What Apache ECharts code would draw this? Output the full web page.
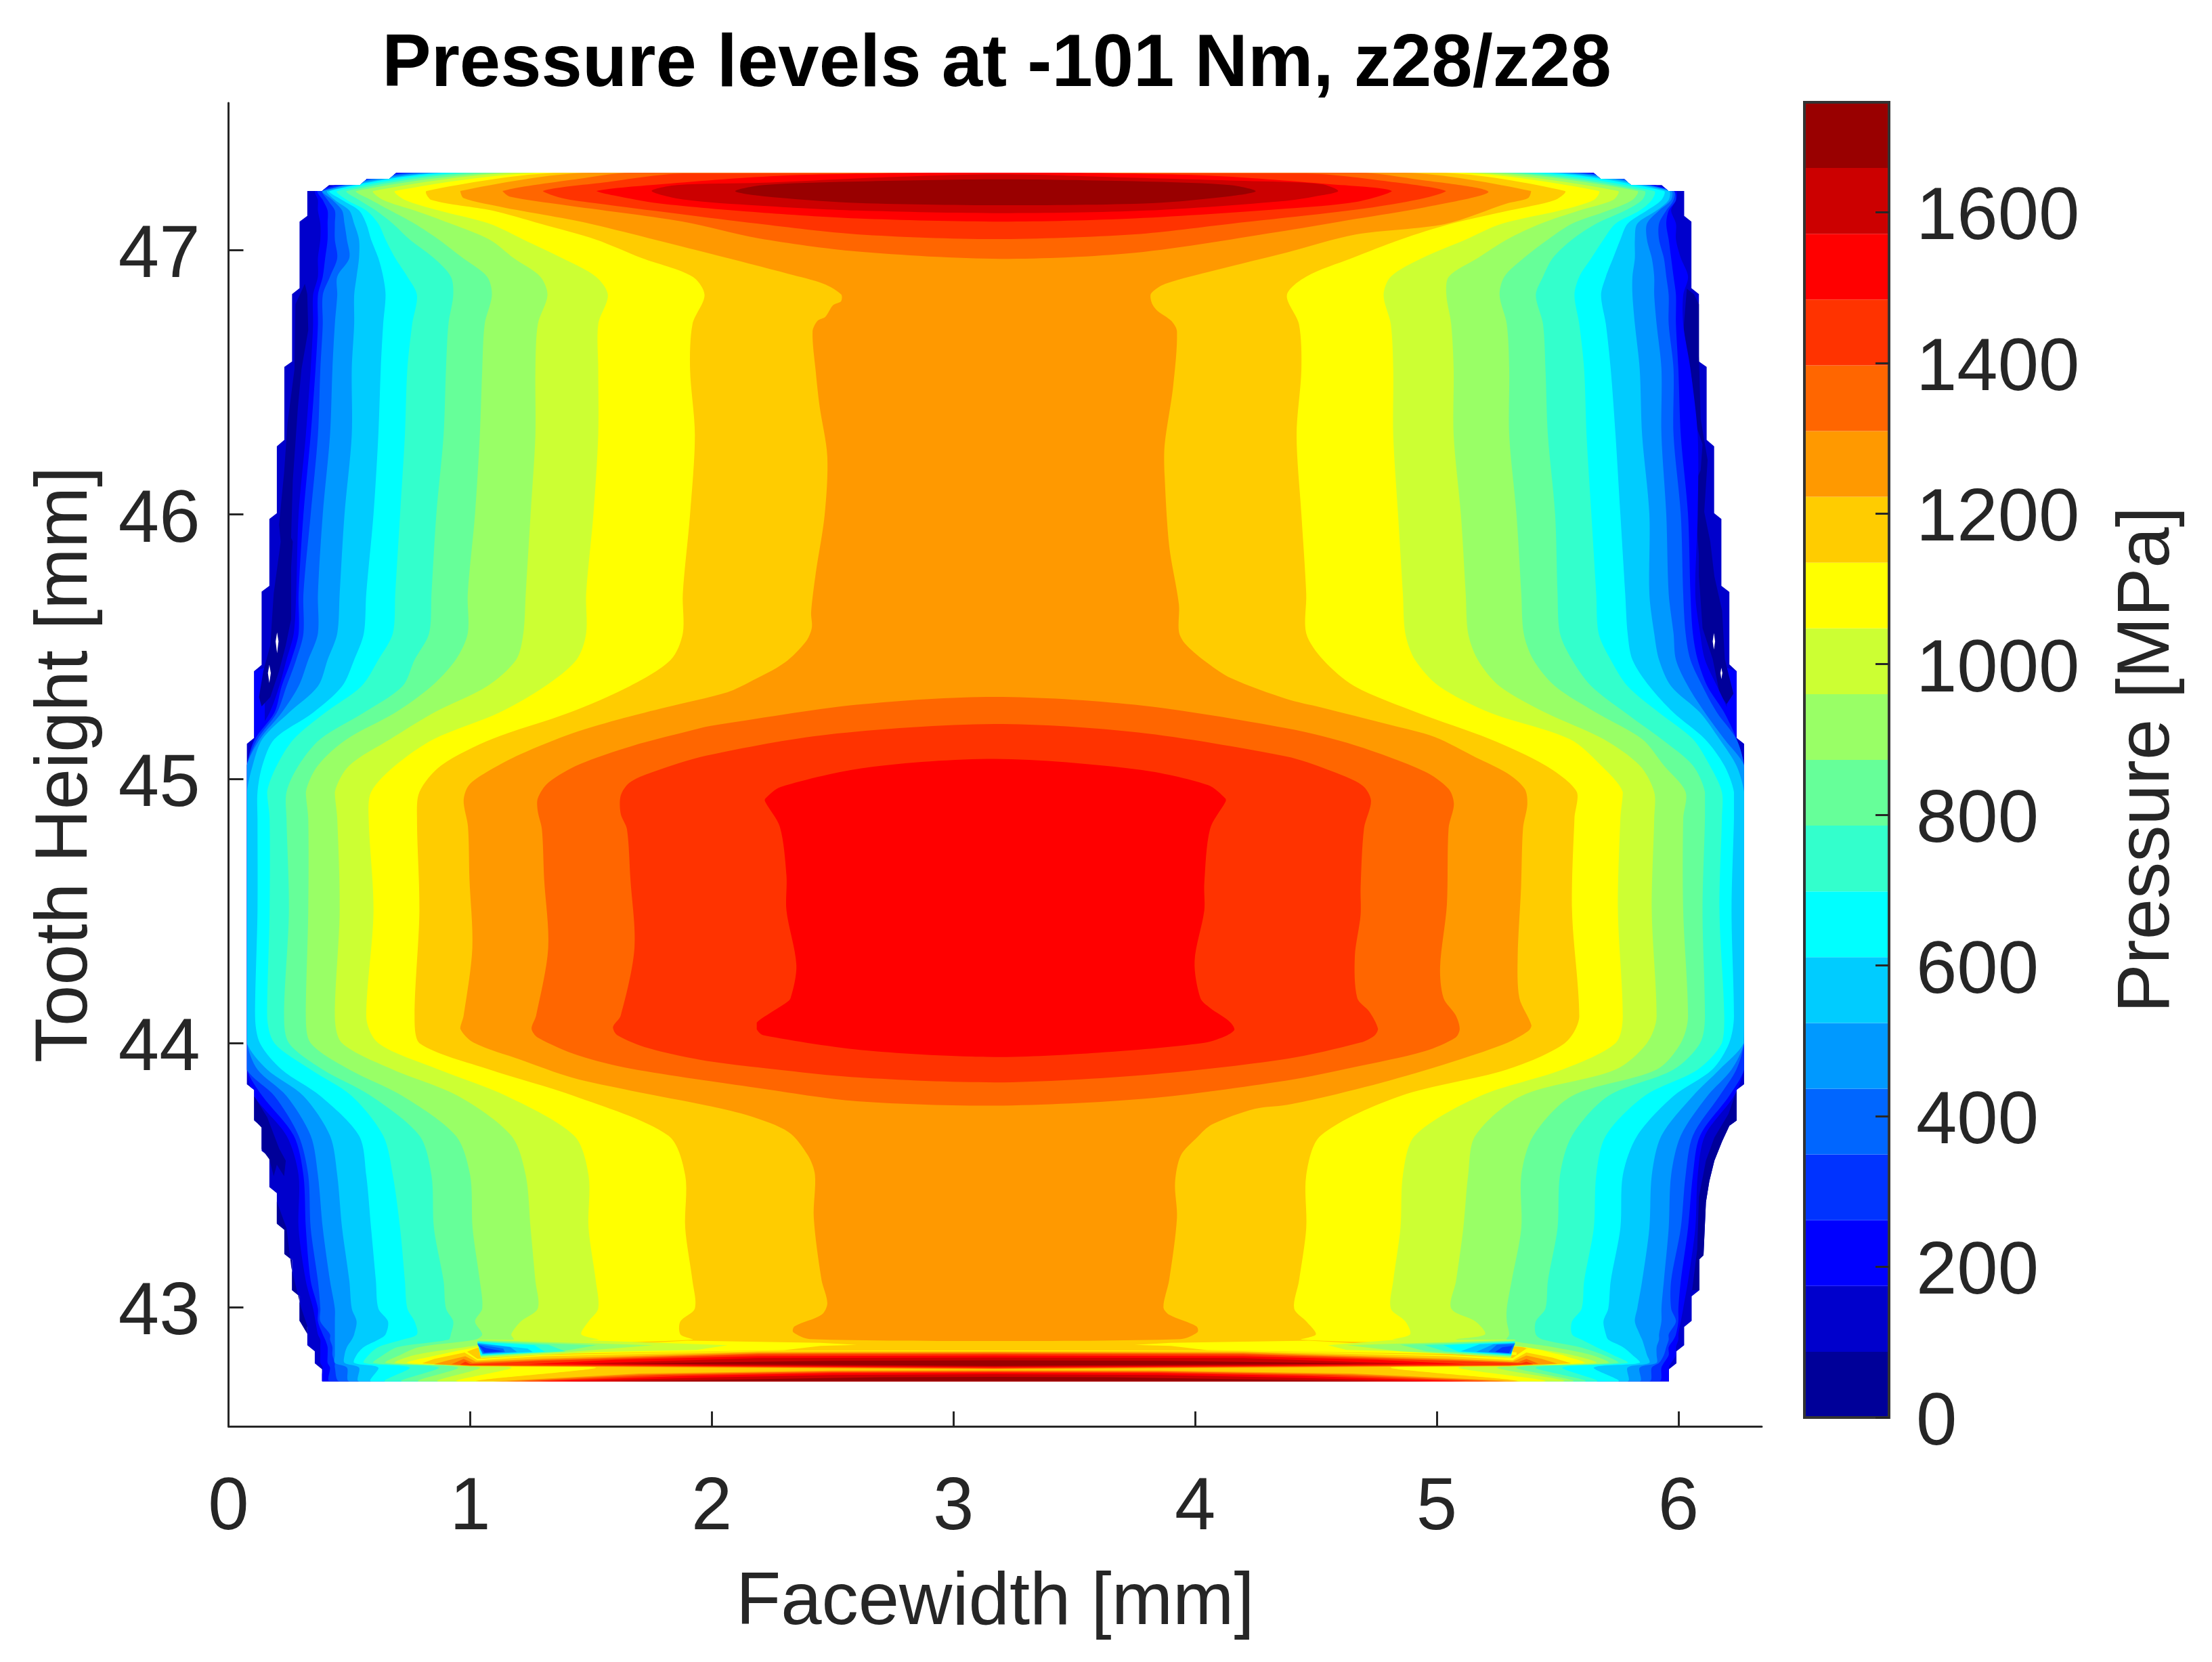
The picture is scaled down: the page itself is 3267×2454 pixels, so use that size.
<!DOCTYPE html>
<html>
<head>
<meta charset="utf-8">
<title>Pressure levels</title>
<script src="https://cdn.jsdelivr.net/npm/echarts@6/dist/echarts.min.js"></script>
<style>
  body { margin: 0; padding: 0; background: #fff; }
  #chart { width: 3267px; height: 2454px; }
</style>
</head>
<body>
<div id="chart"></div>
<script>
// colour bands, lowest pressure first
const bandColors = ["#000099","#0000CC","#0000FF","#0033FF","#0066FF","#0099FF","#00CCFF","#00FFFF","#33FFCC","#66FF99",
  "#99FF66","#CCFF33","#FFFF00","#FFCC00","#FF9900","#FF6600","#FF3300","#FF0000","#CC0000","#990000"];
const bandEdges = [0,87.3,174.6,261.9,349.2,436.5,523.8,611.1,698.4,785.7,873,960.3,1047.6,1134.9,1222.2,1309.5,1396.8,1484.1,1571.4,1658.7,1746];
const xTicks = [0,1,2,3,4,5,6];
const yTicks = [43,44,45,46,47];
const barTicks = [0,200,400,600,800,1000,1200,1400,1600];

// tooth height of the rows where the contour crossings were read
const rowY = [47.293,47.224,47.19,47.15,47.10,47.04,46.97,46.90,46.83,46.72,46.55,46.30,46.00,45.70,45.55,45.45,45.35,45.25,45.15,45.05,
  44.95,44.85,44.50,44.10,44.00,43.90,43.80,43.65,43.50,43.30,43.10,42.996,42.947,42.898,42.878,42.85,42.82,42.79,42.772,42.72];

// facewidth where each band starts on the left side, one entry per row
const left2 = [.72,.36,.37,.37,.38,.38,.37,.37,.35,.35,.34,.32,.29,.28,.27,.24,.21,.17,.106,.076,.076,.076,.076,.076,.076,.076,.106,.24,.29,.29,.32,.35,.36,.37,.38,.38,.38,.38,.39,.39];
const left3 = [.75,.37,.39,.41,.41,.41,.40,.39,.37,.37,.36,.34,.31,.29,.29,.26,.22,.19,.11,.076,.076,.076,.076,.076,.076,.076,.14,.27,.31,.32,.34,.37,.37,.39,.40,.41,.41,.41,.42,.42];
const left4 = [.79,.39,.41,.44,.44,.44,.45,.42,.39,.39,.38,.37,.34,.31,.31,.28,.24,.20,.12,.076,.076,.076,.076,.076,.076,.076,.19,.29,.33,.34,.37,.38,.38,.42,.42,.43,.43,.44,.44,.46];
const left5 = [.84,.39,.43,.47,.48,.49,.50,.45,.45,.44,.43,.42,.39,.37,.37,.33,.29,.22,.13,.076,.076,.076,.076,.076,.076,.12,.24,.34,.37,.39,.42,.44,.44,.44,.44,.44,.44,.44,.49,.50];
const left6 = [.88,.41,.44,.50,.52,.54,.54,.53,.52,.52,.51,.51,.48,.46,.45,.41,.37,.25,.14,.10,.076,.076,.076,.076,.076,.16,.31,.42,.45,.47,.50,.51,.53,.52,.51,.49,.48,.48,.54,.54];
const left7 = [.92,.42,.47,.54,.57,.59,.62,.64,.65,.64,.63,.62,.60,.57,.56,.52,.47,.35,.19,.14,.12,.12,.12,.11,.13,.22,.38,.54,.57,.59,.61,.62,.66,.65,.62,.56,.53,.52,.62,.59];
const left8 = [.98,.45,.49,.57,.62,.65,.69,.74,.78,.76,.74,.73,.71,.69,.68,.62,.55,.40,.27,.20,.16,.17,.17,.16,.19,.34,.51,.64,.68,.71,.73,.74,.77,.78,.72,.62,.58,.56,.75,.65];
const left9 = [1.05,.49,.54,.61,.68,.75,.85,.92,.93,.91,.90,.89,.86,.84,.83,.77,.72,.56,.38,.29,.24,.24,.25,.23,.25,.39,.59,.79,.84,.85,.89,.90,.93,.92,.91,.70,.64,.60,.87,.72];
const left10 = [1.14,.53,.59,.67,.77,.87,.97,1.07,1.09,1.06,1.05,1.04,1.02,.99,.99,.94,.84,.69,.49,.37,.32,.33,.33,.32,.34,.50,.72,.94,1.0,1.01,1.04,1.05,1.02,1.05,1.02,.79,.71,.65,.95,.79];
const left11 = [1.21,.60,.64,.77,.92,1.08,1.18,1.29,1.32,1.28,1.27,1.27,1.25,1.23,1.22,1.19,1.07,.85,.67,.50,.44,.45,.46,.44,.47,.68,.95,1.17,1.23,1.25,1.27,1.28,1.21,1.17,1.18,.98,.77,.69,1.04,.87];
const left12 = [1.31,.69,.73,.87,1.08,1.22,1.38,1.52,1.57,1.53,1.53,1.53,1.51,1.48,1.48,1.44,1.31,1.12,.85,.69,.59,.58,.60,.57,.62,.87,1.15,1.43,1.49,1.49,1.52,1.53,1.49,1.46,1.53,1.04,.87,.74,1.17,.95];
const left13 = [1.38,.82,.84,1.09,1.29,1.52,1.71,1.92,1.97,1.92,1.91,1.93,1.91,1.88,1.88,1.83,1.66,1.41,1.09,.88,.79,.78,.79,.77,.79,1.08,1.43,1.82,1.89,1.89,1.92,1.93,1.87,1.87,1.92,1.05,.95,.80,1.52,1.04];

// facewidth where each band ends on the right side
const right2 = [5.62,5.99,5.99,5.97,5.99,5.99,6.01,6.04,6.02,6.02,6.05,6.08,6.08,6.07,6.09,6.11,6.16,6.21,6.241,6.272,6.272,6.272,6.272,6.272,6.272,6.272,6.23,6.11,6.08,6.07,6.04,6.02,6.01,6.0,6.0,5.99,5.99,5.97,5.96,5.96];
const right3 = [5.59,5.98,5.99,5.96,5.95,5.96,5.97,5.98,5.99,5.99,6.0,6.01,6.04,6.05,6.06,6.08,6.12,6.19,6.241,6.272,6.272,6.272,6.272,6.272,6.272,6.272,6.21,6.09,6.06,6.04,6.01,6.0,6.0,5.99,5.98,5.96,5.96,5.94,5.93,5.92];
const right4 = [5.56,5.98,5.98,5.95,5.92,5.92,5.94,5.95,5.96,5.96,5.98,5.98,6.01,6.02,6.03,6.05,6.10,6.16,6.24,6.272,6.272,6.272,6.272,6.272,6.272,6.24,6.17,6.06,6.03,6.01,5.97,5.97,5.99,5.96,5.96,5.95,5.94,5.92,5.89,5.88];
const right5 = [5.52,5.97,5.97,5.92,5.87,5.87,5.89,5.90,5.90,5.91,5.93,5.93,5.95,5.96,5.98,5.99,6.04,6.11,6.19,6.272,6.272,6.272,6.272,6.272,6.272,6.22,6.12,6.01,5.97,5.96,5.94,5.93,5.93,5.92,5.92,5.91,5.91,5.91,5.84,5.84];
const right6 = [5.48,5.96,5.96,5.91,5.83,5.82,5.82,5.81,5.81,5.82,5.84,5.85,5.88,5.88,5.90,5.92,5.97,6.09,6.17,6.24,6.272,6.272,6.272,6.272,6.27,6.17,6.06,5.93,5.89,5.88,5.85,5.83,5.82,5.84,5.85,5.86,5.87,5.88,5.79,5.79];
const right7 = [5.43,5.94,5.93,5.87,5.79,5.76,5.73,5.70,5.68,5.70,5.72,5.74,5.76,5.78,5.79,5.81,5.88,5.98,6.11,6.19,6.23,6.23,6.22,6.23,6.21,6.14,5.98,5.83,5.77,5.76,5.72,5.71,5.69,5.70,5.71,5.77,5.81,5.84,5.65,5.75];
const right8 = [5.36,5.90,5.89,5.84,5.74,5.69,5.64,5.59,5.57,5.59,5.61,5.62,5.64,5.66,5.67,5.72,5.79,5.92,6.06,6.13,6.18,6.18,6.17,6.19,6.18,6.08,5.86,5.70,5.66,5.65,5.61,5.60,5.56,5.56,5.60,5.66,5.73,5.79,5.52,5.66];
const right9 = [5.29,5.86,5.85,5.78,5.66,5.56,5.48,5.44,5.41,5.44,5.45,5.46,5.49,5.50,5.51,5.56,5.64,5.78,5.93,6.06,6.11,6.11,6.10,6.11,6.09,5.98,5.71,5.56,5.51,5.50,5.46,5.45,5.41,5.41,5.44,5.59,5.69,5.75,5.41,5.61];
const right10 = [5.22,5.83,5.81,5.71,5.56,5.46,5.36,5.28,5.26,5.29,5.30,5.30,5.33,5.35,5.36,5.40,5.49,5.66,5.85,5.94,6.03,6.02,6.02,6.04,6.01,5.91,5.56,5.40,5.35,5.35,5.31,5.29,5.29,5.30,5.29,5.48,5.64,5.71,5.33,5.56];
const right11 = [5.14,5.75,5.73,5.59,5.43,5.29,5.17,5.05,5.04,5.06,5.07,5.07,5.10,5.12,5.13,5.17,5.26,5.45,5.69,5.84,5.90,5.90,5.89,5.91,5.87,5.74,5.35,5.16,5.13,5.11,5.08,5.06,5.16,5.20,5.08,5.36,5.56,5.66,5.25,5.52];
const right12 = [5.08,5.67,5.65,5.51,5.27,5.12,4.94,4.81,4.78,4.81,4.82,4.82,4.84,4.86,4.87,4.91,5.01,5.22,5.55,5.68,5.77,5.76,5.75,5.77,5.74,5.52,5.18,4.91,4.86,4.85,4.82,4.81,4.87,4.89,4.82,5.36,5.51,5.61,5.09,5.44];
const right13 = [5.01,5.53,5.49,5.30,5.06,4.85,4.65,4.46,4.38,4.43,4.44,4.42,4.44,4.46,4.46,4.53,4.66,4.92,5.22,5.45,5.58,5.57,5.56,5.59,5.53,5.29,4.85,4.52,4.46,4.46,4.43,4.41,4.46,4.50,4.44,5.35,5.43,5.56,4.81,5.32];

// outline of the region that has data
const outline = [[.694,47.293],[.666,47.27],[.573,47.27],[.544,47.246],[.416,47.246],[.387,47.224],[.326,47.224],[.326,47.13],[.294,47.108],[.294,46.856],[.263,46.834],[.263,46.579],[.231,46.558],[.231,46.282],[.2,46.258],[.2,46.005],[.169,45.983],[.169,45.73],[.137,45.708],[.137,45.431],[.106,45.407],[.106,45.155],[.076,45.132],[.076,43.844],[.106,43.823],[.106,43.707],[.137,43.684],[.137,43.592],[.169,43.57],[.169,43.455],[.2,43.432],[.2,43.317],[.231,43.294],[.231,43.202],[.263,43.179],[.263,43.065],[.294,43.042],[.294,42.949],[.326,42.926],[.326,42.857],[.357,42.834],[.357,42.788],[.387,42.766],[.387,42.72],
  [5.961,42.72],[5.961,42.766],[5.992,42.788],[5.992,42.834],[6.024,42.857],[6.024,42.926],[6.055,42.949],[6.055,43.042],[6.087,43.065],[6.087,43.182],[6.104,43.197],[6.114,43.398],[6.128,43.477],[6.149,43.555],[6.181,43.628],[6.211,43.687],[6.241,43.707],[6.241,43.823],[6.272,43.844],[6.272,45.132],[6.241,45.155],[6.241,45.407],[6.211,45.433],[6.211,45.707],[6.178,45.73],[6.178,45.983],[6.148,46.005],[6.148,46.258],[6.117,46.282],[6.117,46.558],[6.085,46.579],[6.085,46.834],[6.054,46.856],[6.054,47.108],[6.024,47.13],[6.024,47.224],[5.959,47.224],[5.931,47.246],[5.804,47.246],[5.775,47.27],[5.678,47.27],[5.649,47.293]];

// low pockets along the flanks, painted under the contour bands
const flankPatches = [
  [2,[[.106,45.407],[.15,45.42],[.15,45.2],[.106,45.155]]],
  [2,[[6.241,45.407],[6.2,45.42],[6.2,45.2],[6.241,45.155]]],
  [0,[[.316,46.873],[.277,46.795],[.273,46.55],[.244,46.344],[.23,46.158],[.209,45.961],[.216,45.897],[.187,45.701],[.18,45.603],[.173,45.505],[.144,45.407],[.126,45.309],[.137,45.274],[.173,45.309],[.209,45.407],[.237,45.505],[.259,45.603],[.259,45.799],[.266,45.897],[.259,45.912],[.266,46.128],[.287,46.403],[.302,46.55],[.33,46.697],[.326,46.834]]],
  [0,[[6.035,46.854],[6.021,46.697],[6.057,46.501],[6.064,46.363],[6.1,46.265],[6.092,46.167],[6.078,46.138],[6.071,46.01],[6.085,45.846],[6.085,45.766],[6.1,45.57],[6.142,45.453],[6.171,45.322],[6.2,45.283],[6.228,45.322],[6.192,45.453],[6.181,45.636],[6.149,45.766],[6.132,45.897],[6.107,46.01],[6.121,46.206],[6.092,46.363],[6.085,46.599],[6.085,46.795],[6.064,46.834]]],
  [0,[[.106,43.8],[.16,43.72],[.21,43.6],[.237,43.555],[.23,43.496],[.2,43.54],[.187,43.496],[.169,43.56],[.137,43.6],[.137,43.68],[.106,43.71]]],
  [0,[[.2,43.4],[.24,43.3],[.26,43.15],[.3,43.0],[.326,42.93],[.326,42.9],[.294,42.949],[.294,43.042],[.263,43.065],[.263,43.179],[.231,43.202],[.231,43.294],[.2,43.317]]],
  [0,[[6.241,43.82],[6.241,43.707],[6.211,43.687],[6.181,43.628],[6.149,43.555],[6.128,43.477],[6.114,43.398],[6.104,43.197],[6.087,43.182],[6.087,43.065],[6.057,43.065],[6.078,43.22],[6.085,43.418],[6.114,43.555],[6.149,43.643],[6.207,43.731]]]
];
// tiny gaps in the contours
const holes = [
  [[.201,45.554],[.207,45.52],[.201,45.475],[.195,45.52]],
  [[.169,45.431],[.175,45.4],[.169,45.363],[.163,45.4]],
  [[6.147,45.551],[6.152,45.52],[6.147,45.489],[6.142,45.52]],
  [[6.178,45.42],[6.182,45.4],[6.178,45.377],[6.174,45.4]]
];

// upper cap and the neck around the middle
const orangeBody = [[1.494,47.293],[.959,47.224],[.973,47.197],[1.137,47.162],[1.28,47.138],[1.477,47.104],[1.996,46.986],[2.318,46.91],[2.462,46.873],[2.535,46.833],[2.535,46.807],[2.502,46.792],[2.47,46.748],[2.438,46.733],[2.417,46.692],[2.43,46.542],[2.446,46.41],[2.478,46.219],[2.467,45.998],[2.43,45.777],[2.411,45.63],[2.414,45.572],[2.39,45.52],[2.301,45.439],[2.157,45.366],[2.066,45.328],[1.809,45.27],[1.637,45.23],[1.423,45.172],[1.209,45.093],[1.066,45.024],[.994,44.975],[.973,44.917],[.991,44.819],[.997,44.623],[1.009,44.36],[.973,44.104],[.959,44.055],[1.016,44.001],[1.209,43.937],[1.423,43.869],[1.666,43.82],[1.996,43.761],[2.157,43.724],[2.318,43.663],[2.398,43.575],[2.427,43.501],[2.422,43.339],[2.454,43.104],[2.478,43.016],[2.454,42.972],[2.342,42.928],[2.337,42.906],[2.406,42.88],[3.17,42.873],[3.941,42.88],[4.01,42.906],[4.006,42.928],[3.893,42.972],[3.869,43.001],[3.893,43.104],[3.925,43.339],[3.917,43.472],[3.941,43.575],[4.006,43.641],[4.07,43.692],[4.247,43.751],[4.378,43.766],[4.517,43.792],[4.807,43.859],[5.092,43.937],[5.292,44.001],[5.378,44.045],[5.392,44.067],[5.342,44.171],[5.335,44.328],[5.349,44.59],[5.357,44.812],[5.375,44.904],[5.364,44.962],[5.292,45.021],[5.164,45.08],[4.992,45.158],[4.807,45.204],[4.521,45.27],[4.378,45.302],[4.15,45.38],[4.038,45.447],[3.957,45.513],[3.933,45.557],[3.933,45.66],[3.893,45.88],[3.874,46.145],[3.874,46.263],[3.909,46.483],[3.925,46.692],[3.901,46.733],[3.845,46.77],[3.821,46.8],[3.818,46.836],[3.877,46.873],[4.086,46.925],[4.378,46.991],[4.664,47.059],[5.035,47.099],[5.292,47.177],[5.378,47.197],[5.39,47.224],[4.864,47.293]];

// closed contours: [band, outline]
const closedContours = [
  [15,[[1.666,47.293],[1.451,47.27],[1.134,47.224],[1.166,47.202],[1.38,47.172],[1.88,47.108],[2.191,47.045],[2.6,46.995],[3.197,46.967],[3.75,46.99],[4.378,47.074],[4.664,47.118],[4.949,47.162],[5.214,47.221],[4.9,47.27],[4.684,47.293]]],
  [16,[[1.88,47.29],[1.551,47.256],[1.301,47.224],[1.38,47.197],[1.523,47.177],[2.191,47.1],[2.6,47.06],[3.17,47.042],[3.75,47.06],[4.158,47.101],[4.378,47.123],[4.735,47.162],[4.949,47.197],[5.038,47.224],[4.8,47.26],[4.46,47.29]]],
  [17,[[1.523,47.224],[1.594,47.207],[1.78,47.177],[2.191,47.143],[2.6,47.12],[3.197,47.108],[3.75,47.12],[4.378,47.157],[4.664,47.182],[4.814,47.224],[4.55,47.25],[4.05,47.282],[3.45,47.293],[2.9,47.293],[2.3,47.282],[1.8,47.25]]],
  [18,[[1.751,47.224],[1.88,47.192],[2.191,47.169],[2.6,47.15],[3.197,47.14],[3.8,47.15],[4.378,47.187],[4.521,47.207],[4.592,47.224],[4.521,47.25],[4.2,47.262],[3.7,47.275],[3.197,47.287],[2.7,47.275],[2.213,47.255],[1.856,47.246]]],
  [19,[[2.097,47.223],[2.213,47.204],[2.571,47.18],[3.197,47.17],[3.822,47.178],[4.144,47.204],[4.251,47.223],[4.144,47.246],[3.822,47.259],[3.197,47.268],[2.571,47.259],[2.213,47.246]]],
  [15,[[1.996,45.2],[2.6,45.28],[3.17,45.31],[3.75,45.28],[4.378,45.191],[4.664,45.126],[4.949,45.028],[5.049,44.962],[5.071,44.904],[5.049,44.812],[5.042,44.524],[5.014,44.289],[5.028,44.171],[5.078,44.106],[5.095,44.054],[5.078,44.021],[4.949,43.969],[4.664,43.91],[4.378,43.858],[3.8,43.79],[3.17,43.763],[2.6,43.78],[2.191,43.83],[1.666,43.903],[1.451,43.952],[1.28,44.021],[1.254,44.055],[1.273,44.104],[1.323,44.36],[1.306,44.623],[1.297,44.809],[1.28,44.877],[1.28,44.926],[1.323,44.985],[1.451,45.054],[1.666,45.123],[1.951,45.191]]],
  [16,[[1.98,45.088],[2.478,45.167],[3.17,45.207],[3.764,45.175],[4.378,45.084],[4.549,45.034],[4.692,44.975],[4.728,44.917],[4.699,44.812],[4.685,44.59],[4.685,44.485],[4.661,44.328],[4.671,44.171],[4.721,44.119],[4.757,44.054],[4.742,44.028],[4.685,44.002],[4.378,43.94],[3.8,43.88],[3.17,43.851],[2.6,43.87],[2.191,43.908],[1.951,43.937],[1.737,43.981],[1.609,44.03],[1.591,44.06],[1.623,44.104],[1.68,44.36],[1.663,44.623],[1.649,44.809],[1.623,44.868],[1.623,44.936],[1.659,44.985],[1.751,45.024]]],
  [17,[[2.221,44.925],[2.285,44.969],[2.639,45.042],[3.17,45.075],[3.764,45.035],[4.054,44.976],[4.126,44.925],[4.126,44.913],[4.062,44.81],[4.038,44.604],[4.038,44.501],[3.998,44.31],[4.022,44.17],[4.062,44.133],[4.142,44.082],[4.163,44.052],[4.134,44.03],[4.038,44.001],[3.604,43.964],[3.17,43.947],[2.639,43.972],[2.213,44.03],[2.186,44.052],[2.186,44.077],[2.237,44.111],[2.301,44.148],[2.326,44.17],[2.35,44.295],[2.309,44.501],[2.309,44.633],[2.282,44.817],[2.221,44.913]]]
];

// thin yellow rims just above the bottom hot stripe
const rimPatches = [
  [12,[[1.04,42.83],[1.9,42.874],[2.45,42.866],[2.6,42.858],[2.45,42.854],[2.3,42.838],[1.04,42.82]]],
  [12,[[5.33,42.83],[4.47,42.874],[3.9,42.866],[3.75,42.858],[3.9,42.854],[4.05,42.838],[5.33,42.82]]]
];
// cold pockets next to the bottom wedges, warm to cold
const coldPockets = [
  [11,[[1.03,42.878],[1.523,42.874],[2.066,42.857],[1.937,42.839],[1.523,42.831],[1.044,42.808]]],
  [10,[[1.03,42.877],[1.758,42.857],[1.38,42.829],[1.044,42.812]]],
  [9,[[1.03,42.874],[1.523,42.857],[1.38,42.834],[1.044,42.815]]],
  [8,[[1.03,42.871],[1.323,42.859],[1.394,42.834],[1.044,42.818]]],
  [7,[[1.03,42.869],[1.266,42.857],[1.309,42.832],[1.044,42.82]]],
  [6,[[1.03,42.866],[1.238,42.844],[1.259,42.831],[1.051,42.822]]],
  [5,[[1.03,42.864],[1.167,42.849],[1.194,42.831],[1.051,42.824]]],
  [4,[[1.03,42.861],[1.137,42.844],[1.144,42.831],[1.054,42.826]]],
  [3,[[1.037,42.857],[1.066,42.846],[1.137,42.834],[1.059,42.829]]],
  [11,[[5.324,42.878],[4.807,42.876],[4.549,42.857],[4.628,42.839],[4.949,42.832],[5.307,42.808]]],
  [10,[[5.324,42.877],[4.628,42.857],[4.849,42.834],[5.307,42.812]]],
  [9,[[5.324,42.874],[4.849,42.859],[4.957,42.834],[5.307,42.815]]],
  [8,[[5.324,42.871],[4.949,42.857],[5.035,42.834],[5.307,42.818]]],
  [7,[[5.324,42.869],[5.028,42.857],[5.092,42.832],[5.307,42.82]]],
  [6,[[5.324,42.866],[5.178,42.861],[5.099,42.834],[5.307,42.822]]],
  [5,[[5.324,42.864],[5.235,42.861],[5.164,42.832],[5.307,42.824]]],
  [4,[[5.321,42.861],[5.249,42.859],[5.214,42.832],[5.307,42.826]]],
  [3,[[5.314,42.854],[5.271,42.849],[5.242,42.832],[5.299,42.827]]]
];
// hot stripe with its two wedges, then the lower stripe on the bottom edge
const upperStripe = [
  [12,[[.744,42.79],[.866,42.82],[.977,42.839],[1.03,42.805],[1.3,42.82],[2.19,42.836],[3.17,42.837],[4.2,42.836],[5.05,42.82],[5.314,42.808],[5.371,42.844],[5.521,42.82],[5.607,42.79],[5.3,42.778],[3.17,42.776],[1.0,42.778]]],
  [13,[[.801,42.788],[.851,42.805],[.977,42.829],[1.03,42.8],[1.3,42.815],[2.19,42.834],[3.17,42.835],[4.2,42.834],[5.05,42.815],[5.314,42.8],[5.371,42.829],[5.478,42.81],[5.557,42.788],[5.3,42.777],[4.3,42.772],[3.17,42.77],[2.0,42.772],[1.0,42.777]]],
  [14,[[.851,42.785],[.909,42.8],[.98,42.815],[1.023,42.795],[1.3,42.806],[2.19,42.83],[3.17,42.832],[4.2,42.83],[5.05,42.806],[5.314,42.795],[5.371,42.818],[5.435,42.805],[5.499,42.787],[5.3,42.779],[4.3,42.772],[3.17,42.766],[2.0,42.772],[1.0,42.779]]],
  [15,[[.923,42.785],[.973,42.805],[1.009,42.79],[1.3,42.802],[2.19,42.826],[3.17,42.828],[4.2,42.826],[5.05,42.802],[5.335,42.792],[5.371,42.805],[5.421,42.787],[5.3,42.78],[4.3,42.774],[3.17,42.768],[2.0,42.774],[1.0,42.78]]],
  [16,[[.958,42.783],[.98,42.795],[1.001,42.785],[1.3,42.798],[2.19,42.822],[3.17,42.824],[4.2,42.822],[5.05,42.798],[5.349,42.788],[5.371,42.795],[5.399,42.785],[5.3,42.781],[4.3,42.776],[3.17,42.77],[2.0,42.776],[1.0,42.781]]],
  [17,[[1.24,42.785],[1.6,42.802],[2.19,42.815],[3.17,42.818],[4.2,42.815],[4.75,42.802],[5.12,42.785],[4.3,42.778],[3.17,42.772],[2.0,42.778]]],
  [18,[[1.42,42.786],[1.8,42.797],[2.19,42.808],[3.17,42.81],[4.2,42.808],[4.55,42.797],[4.92,42.786],[4.2,42.78],[3.17,42.775],[2.1,42.78]]],
  [19,[[1.62,42.787],[2.0,42.792],[2.5,42.798],[3.17,42.8],[3.85,42.798],[4.35,42.792],[4.72,42.787],[3.17,42.779]]]
];
const lowerStripe = [
  [14,[[1.094,42.72],[1.7,42.75],[2.5,42.761],[3.17,42.762],[3.85,42.761],[4.65,42.75],[5.35,42.72]]],
  [15,[[1.151,42.72],[1.7,42.746],[2.5,42.758],[3.17,42.759],[3.85,42.758],[4.65,42.746],[5.29,42.72]]],
  [16,[[1.209,42.72],[1.8,42.745],[2.5,42.755],[3.17,42.757],[3.85,42.755],[4.55,42.745],[5.22,42.72]]],
  [17,[[1.28,42.72],[1.9,42.741],[2.5,42.751],[3.17,42.753],[3.85,42.751],[4.45,42.741],[5.12,42.72]]],
  [18,[[1.38,42.72],[2.0,42.735],[2.5,42.744],[3.17,42.747],[3.85,42.744],[4.35,42.735],[4.98,42.72]]],
  [19,[[1.594,42.72],[2.2,42.729],[2.7,42.736],[3.17,42.737],[3.65,42.736],[4.15,42.729],[4.76,42.72]]]
];

const leftChains = [left2,left3,left4,left5,left6,left7,left8,left9,left10,left11,left12,left13];
const rightChains = [right2,right3,right4,right5,right6,right7,right8,right9,right10,right11,right12,right13];

// paint order: base, flanks, nested bands, closed contours, bottom stripes
// third entry: round the corners between read points (the stepped outline and thin stripes stay sharp)
let shapes = [[1, outline, false]];
flankPatches.forEach(p => shapes.push([p[0], p[1], false]));
holes.forEach(h => shapes.push([-1, h, false]));
leftChains.forEach((lx, i) => {
  const pts = lx.map((x, r) => [x, rowY[r]]);
  for (let r = rowY.length - 1; r >= 0; r--) pts.push([rightChains[i][r], rowY[r]]);
  shapes.push([i + 2, pts, true]);
});
shapes.push([14, orangeBody, true]);
closedContours.forEach(p => shapes.push([p[0], p[1], true]));
[rimPatches, coldPockets, upperStripe, lowerStripe].forEach(list => list.forEach(p => shapes.push([p[0], p[1], false])));

const textColor = "#262626";
const fontName = "Liberation Sans";
// labels sit a little below their tick, as in the original figure
const lowLabel = v => "{n|" + v + "}";
const lowRich = { n: { fontFamily: fontName, fontSize: 108.5, color: textColor, padding: [20,0,0,0] } };

const chart = echarts.init(document.getElementById("chart"), null, { renderer: "canvas" });
chart.setOption({
  animation: false,
  backgroundColor: "#fff",
  title: {
    text: "Pressure levels at -101 Nm, z28/z28",
    left: 1467, top: 38, textAlign: "center",
    textStyle: { fontFamily: fontName, fontSize: 108.5, fontWeight: "bold", color: "#000" }
  },
  grid: [
    { left: 337.5, top: 152, width: 2264.5, height: 1954, outerBoundsMode: "none" },
    { left: 2665, top: 151, width: 125, height: 1942, outerBoundsMode: "none", show: true, z: 5, backgroundColor: "transparent", borderColor: "#333", borderWidth: 4 }
  ],
  xAxis: [
    {
      gridIndex: 0, type: "value", min: 0, max: 6.345,
      name: "Facewidth [mm]", nameLocation: "middle", nameGap: 208, nameMoveOverlap: false,
      nameTextStyle: { fontFamily: fontName, fontSize: 108.5, color: textColor },
      axisLine: { onZero: false, lineStyle: { color: textColor, width: 3 } },
      axisTick: { inside: true, length: 22, lineStyle: { color: textColor, width: 3 }, customValues: xTicks },
      axisLabel: { fontFamily: fontName, fontSize: 108.5, color: textColor, margin: 68, customValues: xTicks, formatter: v => String(v) },
      splitLine: { show: false }
    },
    { gridIndex: 1, type: "value", min: 0, max: 1, show: false }
  ],
  yAxis: [
    {
      gridIndex: 0, type: "value", min: 42.55, max: 47.557,
      name: "Tooth Height [mm]", nameLocation: "middle", nameGap: 185, nameMoveOverlap: false,
      nameTextStyle: { fontFamily: fontName, fontSize: 108.5, color: textColor },
      axisLine: { onZero: false, lineStyle: { color: textColor, width: 3 } },
      axisTick: { inside: true, length: 22, lineStyle: { color: textColor, width: 3 }, customValues: yTicks },
      axisLabel: { margin: 42, customValues: yTicks, formatter: lowLabel, rich: lowRich },
      splitLine: { show: false }
    },
    {
      gridIndex: 1, type: "value", min: 0, max: 1746, position: "right", z: 10,
      name: "Pressure [MPa]", nameLocation: "middle", nameGap: 329, nameRotate: 90, nameMoveOverlap: false,
      nameTextStyle: { fontFamily: fontName, fontSize: 108.5, color: textColor },
      axisLine: { show: false, onZero: false },
      axisTick: { inside: true, length: 20, lineStyle: { color: textColor, width: 3 }, customValues: barTicks },
      axisLabel: { margin: 40, customValues: barTicks, formatter: lowLabel, rich: lowRich },
      splitLine: { show: false }
    }
  ],
  series: [
    {
      type: "custom", xAxisIndex: 0, yAxisIndex: 0, clip: false, silent: true,
      data: shapes.map(s => [s[0]]),
      renderItem(params, api) {
        const s = shapes[params.dataIndex];
        const pts = s[1].map(p => api.coord(p));
        const shape = { points: pts };
        const el = { type: "polygon", shape: shape, style: { fill: s[0] < 0 ? "#fff" : bandColors[s[0]] } };
        if (s[2]) {
          // keep the rounded edges inside the box of the read points and the stepped outline
          shape.smooth = 0.3;
          shape.smoothConstraint = [pts[0], pts[0]];
          el.clipPath = { type: "polygon", shape: { points: outline.map(p => api.coord(p)) } };
        }
        return el;
      }
    },
    {
      type: "custom", xAxisIndex: 1, yAxisIndex: 1, silent: true,
      data: bandColors.map((c, i) => [i]),
      renderItem(params, api) {
        const i = params.dataIndex;
        const a = api.coord([0, bandEdges[i + 1]]);
        const b = api.coord([1, bandEdges[i]]);
        return {
          type: "rect",
          shape: { x: a[0], y: a[1], width: b[0] - a[0], height: b[1] - a[1] },
          style: { fill: bandColors[i] }
        };
      }
    }
  ]
});
</script>
</body>
</html>
